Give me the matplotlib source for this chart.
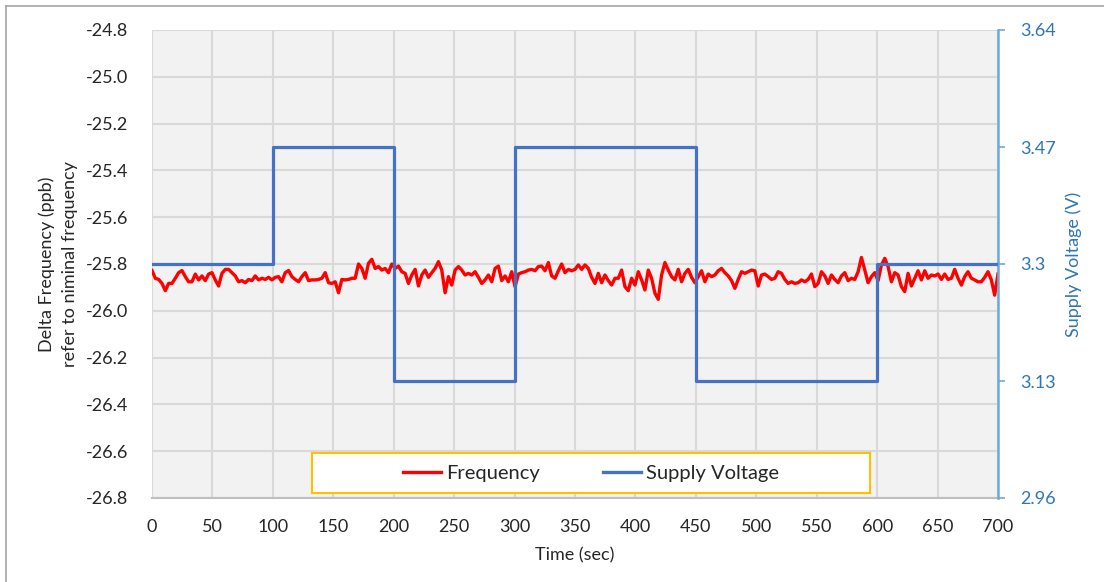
import numpy as np
import matplotlib
matplotlib.use("Agg")
import matplotlib.pyplot as plt
from matplotlib.patches import Rectangle
from matplotlib.lines import Line2D

plt.rcParams['font.family'] = ['Lato', 'DejaVu Sans']

# ---- data ----
freq = [
    # 0 - 118 s
    -25.828, -25.861, -25.866, -25.883, -25.914, -25.883, -25.883, -25.861, -25.837, -25.828,
    -25.854, -25.876, -25.876, -25.843, -25.868, -25.851, -25.871, -25.843, -25.837, -25.868,
    -25.894, -25.840, -25.823, -25.823, -25.837, -25.851, -25.876, -25.871, -25.880, -25.866,
    -25.871, -25.851, -25.868, -25.861, -25.866, -25.857, -25.868, -25.857, -25.854, -25.876,
    -25.837, -25.828, -25.854,
    # 118 - 234 s
    -25.866, -25.876, -25.854, -25.837, -25.871, -25.868, -25.868, -25.866, -25.861, -25.837,
    -25.880, -25.883, -25.876, -25.923, -25.866, -25.868, -25.866, -25.861, -25.861, -25.800,
    -25.819, -25.861, -25.797, -25.780, -25.819, -25.811, -25.826, -25.819, -25.837, -25.800,
    -25.819, -25.809, -25.833, -25.840, -25.883, -25.847, -25.823, -25.894, -25.847, -25.826,
    -25.857, -25.837,
    # 234 - 350 s
    -25.819, -25.790, -25.826, -25.923, -25.854, -25.890, -25.826, -25.811, -25.826, -25.847,
    -25.840, -25.847, -25.833, -25.857, -25.883, -25.868, -25.847, -25.876, -25.819, -25.809,
    -25.871, -25.851, -25.876, -25.833, -25.897, -25.843, -25.837, -25.833, -25.826, -25.823,
    -25.829, -25.811, -25.809, -25.829, -25.794, -25.851, -25.861, -25.829, -25.800, -25.837,
    -25.823, -25.829,
    # 350 - 466 s
    -25.823, -25.804, -25.823, -25.804, -25.819, -25.857, -25.883, -25.840, -25.880, -25.847,
    -25.871, -25.890, -25.861, -25.861, -25.826, -25.897, -25.914, -25.861, -25.890, -25.833,
    -25.868, -25.911, -25.826, -25.861, -25.925, -25.951, -25.847, -25.794, -25.826, -25.854,
    -25.868, -25.823, -25.876, -25.840, -25.823, -25.857, -25.880, -25.854, -25.829, -25.876,
    -25.843, -25.854,
    # 466 - 582 s
    -25.847, -25.829, -25.819, -25.837, -25.851, -25.871, -25.904, -25.866, -25.833, -25.840,
    -25.833, -25.826, -25.829, -25.894, -25.847, -25.843, -25.854, -25.866, -25.861, -25.833,
    -25.840, -25.866, -25.883, -25.876, -25.883, -25.880, -25.868, -25.876, -25.866, -25.843,
    -25.897, -25.883, -25.833, -25.851, -25.883, -25.847, -25.866, -25.880, -25.851, -25.837,
    -25.871, -25.861,
    # 582 - 700 s
    -25.866, -25.833, -25.772, -25.826, -25.880, -25.854, -25.837, -25.871, -25.804, -25.776,
    -25.811, -25.876, -25.837, -25.847, -25.897, -25.918, -25.840, -25.894, -25.861, -25.829,
    -25.868, -25.829, -25.861, -25.847, -25.851, -25.843, -25.866, -25.843, -25.866, -25.861,
    -25.823, -25.861, -25.890, -25.854, -25.833, -25.861, -25.868, -25.876, -25.876, -25.857,
    -25.833, -25.868, -25.933, -25.843,
]
freq_time = np.linspace(0, 700, len(freq))

volt_time = [0, 100, 200, 300, 450, 600, 700]
volt = [3.30, 3.47, 3.13, 3.47, 3.13, 3.30, 3.30]

x_ticks = list(range(0, 701, 50))
freq_ticks = [-26.8, -26.6, -26.4, -26.2, -26.0, -25.8, -25.6, -25.4, -25.2, -25.0, -24.8]
volt_ticks = [2.96, 3.13, 3.30, 3.47, 3.64]
volt_tick_labels = ["2.96", "3.13", "3.3", "3.47", "3.64"]

# ---- figure ----
W, H = 1104, 582
fig = plt.figure(figsize=(W / 100, H / 100), dpi=100)
fig.patch.set_facecolor('white')

L, R, T, B = 152, 998, 30, 498
ax = fig.add_axes([L / W, 1 - B / H, (R - L) / W, (B - T) / H])
ax.set_facecolor('#F2F2F2')

text_col = '#262626'
red = '#FF0000'
blue = '#4472C4'
axis_blue = '#2E75B6'
fs = 13

ax.plot(freq_time, freq, color=red, lw=2.4, zorder=3)
ax.set_xlim(0, 700)
ax.set_ylim(-26.8, -24.8)
ax.set_xticks(x_ticks)
ax.set_yticks(freq_ticks)
ax.set_yticklabels([f"{v:.1f}" for v in freq_ticks])
ax.grid(True, color='#D9D9D9', lw=1.5)
ax.set_axisbelow(True)
ax.tick_params(axis='both', length=0, labelsize=fs, colors=text_col)
ax.tick_params(axis='y', pad=17)
ax.tick_params(axis='x', pad=15)
for s in ['top', 'right', 'left']:
    ax.spines[s].set_visible(False)
ax.spines['bottom'].set_color('#BFBFBF')
ax.spines['bottom'].set_linewidth(1.5)
ax.set_xlabel('Time (sec)', fontsize=fs, color=text_col, labelpad=9)
ax.set_ylabel('Delta Frequency (ppb)\nrefer to niminal frequency', fontsize=fs,
              color=text_col, labelpad=6, linespacing=1.55)

ax2 = ax.twinx()
ax2.step(volt_time, volt, where='post', color=blue, lw=2.3, zorder=4)
ax2.set_ylim(2.96, 3.64)
ax2.set_yticks(volt_ticks)
ax2.set_yticklabels(volt_tick_labels)
ax2.tick_params(axis='y', length=5, width=1.2, color='#6FA8DC', labelsize=fs,
                labelcolor=axis_blue, pad=11)
for s in ['top', 'left', 'bottom']:
    ax2.spines[s].set_visible(False)
ax2.spines['right'].set_color('#6FA8DC')
ax2.spines['right'].set_linewidth(1.8)
ax2.set_ylabel('Supply Voltage (V)', fontsize=fs, color=axis_blue, labelpad=7)

# legend box
bx0, bx1, by0, by1 = 312, 870, 453, 493
fig.patches.append(Rectangle((bx0 / W, 1 - by1 / H), (bx1 - bx0) / W, (by1 - by0) / H,
                             transform=fig.transFigure, facecolor='white',
                             edgecolor='#FFC000', lw=1.5, zorder=5))
handles = [Line2D([], [], color=red, lw=2.4), Line2D([], [], color=blue, lw=2.4)]
leg = fig.legend(handles, ['Frequency', 'Supply Voltage'], loc='center',
                 bbox_to_anchor=((bx0 + bx1) / 2 / W, 1 - (by0 + by1) / 2 / H),
                 ncol=2, frameon=False, fontsize=14.5, handlelength=1.9,
                 handletextpad=0.25, columnspacing=3.1, labelcolor=text_col)
leg.set_zorder(6)

# outer border
fig.add_artist(Line2D([6 / W, 6 / W], [0, 1 - 6 / H], transform=fig.transFigure,
                      color='#A6A6A6', lw=1.2))
fig.add_artist(Line2D([6 / W, 1], [1 - 6 / H, 1 - 6 / H], transform=fig.transFigure,
                      color='#A6A6A6', lw=1.2))

fig.savefig('out.png', dpi=100)
